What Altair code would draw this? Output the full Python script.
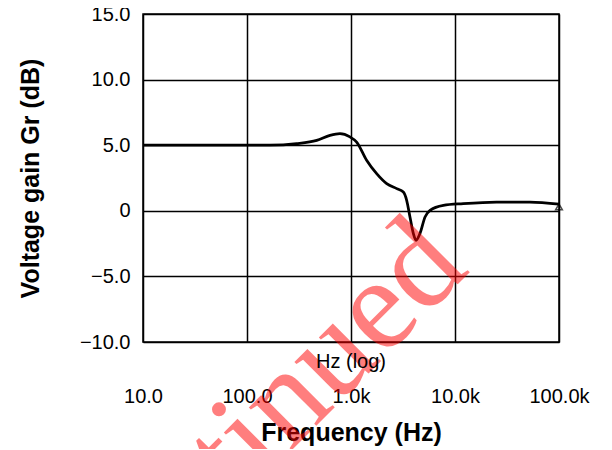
import altair as alt
import pandas as pd

# Curve: frequency (Hz) and voltage gain (dB)
freq_hz = [10, 100, 166, 300, 468, 628, 783, 977, 1133, 1413, 1765, 2204, 2754,
           3186, 3430, 3690, 3980, 4220, 4600, 5150, 5750, 7730, 12000, 25100,
           52500, 100000]
gain_db = [5.0, 5.0, 5.0, 5.12, 5.37, 5.75, 5.88, 5.63, 5.24, 3.85, 2.83, 2.07,
           1.69, 1.43, 0.8, -0.47, -1.74, -2.25, -1.74, -0.47, 0.04, 0.42, 0.55,
           0.67, 0.67, 0.5]

# End marker
marker_f = [100000]
marker_db = [0.3]

# Axis ticks and labels
x_ticks = [10, 100, 1000, 10000, 100000]
x_tick_labels = ["10.0", "100.0", "1.0k", "10.0k", "100.0k"]
y_ticks = [15, 10, 5, 0, -5, -10]
y_tick_labels = ["15.0", "10.0", "5.0", "0", "\u22125.0", "\u221210.0"]
x_unit_label = ["Hz (log)"]

# Watermark
wm_text = ["Discontinued"]
wm_f = [14200]
wm_db = [-4.6]

FONT = "Liberation Sans"
W, H = 416, 328


def label_expr(values, labels):
    expr = "''"
    for v, l in reversed(list(zip(values, labels))):
        expr = f"datum.value == {v} ? '{l}' : ({expr})"
    return expr


curve = pd.DataFrame({"f": freq_hz, "db": gain_db})
marker = pd.DataFrame({"f": marker_f, "db": marker_db})
wm = pd.DataFrame({"f": wm_f, "db": wm_db, "t": wm_text})
unit = pd.DataFrame({"t": x_unit_label})

x_enc = alt.X(
    "f:Q",
    scale=alt.Scale(type="log", domain=[10, 100000], nice=False),
    axis=alt.Axis(
        values=x_ticks,
        labelExpr=label_expr(x_ticks, x_tick_labels),
        grid=True, ticks=False, domain=False,
        labelFlush=False, labelOverlap=False,
        labelFont=FONT, labelFontSize=20, labelColor="black", labelPadding=44,
        title="Frequency (Hz)", titleFont=FONT, titleFontSize=25,
        titleFontWeight="bold", titleColor="black",
        titleY=98, titleBaseline="alphabetic",
    ),
)
y_enc = alt.Y(
    "db:Q",
    scale=alt.Scale(domain=[-10, 15], nice=False),
    axis=alt.Axis(
        values=y_ticks,
        labelExpr=label_expr(y_ticks, y_tick_labels),
        grid=True, ticks=False, domain=False,
        labelFlush=False, labelOverlap=False,
        labelFont=FONT, labelFontSize=20, labelColor="black", labelPadding=13,
        title="Voltage gain Gr (dB)", titleFont=FONT, titleFontSize=25,
        titleFontWeight="bold", titleColor="black", titleAngle=270,
        titleX=-113, titleY=164, titleAlign="center", titleBaseline="middle",
    ),
)

watermark = alt.Chart(wm).mark_text(
    font="Liberation Serif", fontSize=132, color="#ff0000", opacity=0.5,
    angle=315, align="right", baseline="alphabetic",
).encode(x=alt.X("f:Q"), y=alt.Y("db:Q"), text="t:N")

line = alt.Chart(curve).mark_line(
    color="black", strokeWidth=2.75, interpolate="monotone"
).encode(x=x_enc, y=y_enc)

pt = alt.Chart(marker).mark_point(
    shape="triangle-up", filled=False, size=45, color="black", strokeWidth=1.5
).encode(x="f:Q", y="db:Q")

unit_text = alt.Chart(unit).mark_text(
    font=FONT, fontSize=20, color="black", align="center", baseline="alphabetic"
).encode(x=alt.value(W / 2), y=alt.value(H + 26), text="t:N")

chart = alt.layer(line, watermark, pt, unit_text).properties(
    width=W,
    height=H,
    autosize=alt.AutoSizeParams(type="none"),
    padding={"left": 135, "top": 6, "right": 45, "bottom": 107},
).configure_view(
    stroke="black", strokeWidth=1.5
).configure_axis(
    gridColor="black", gridOpacity=1, gridWidth=1.5
)

chart.save("out.html", embed_options={"renderer": "svg", "actions": False})
